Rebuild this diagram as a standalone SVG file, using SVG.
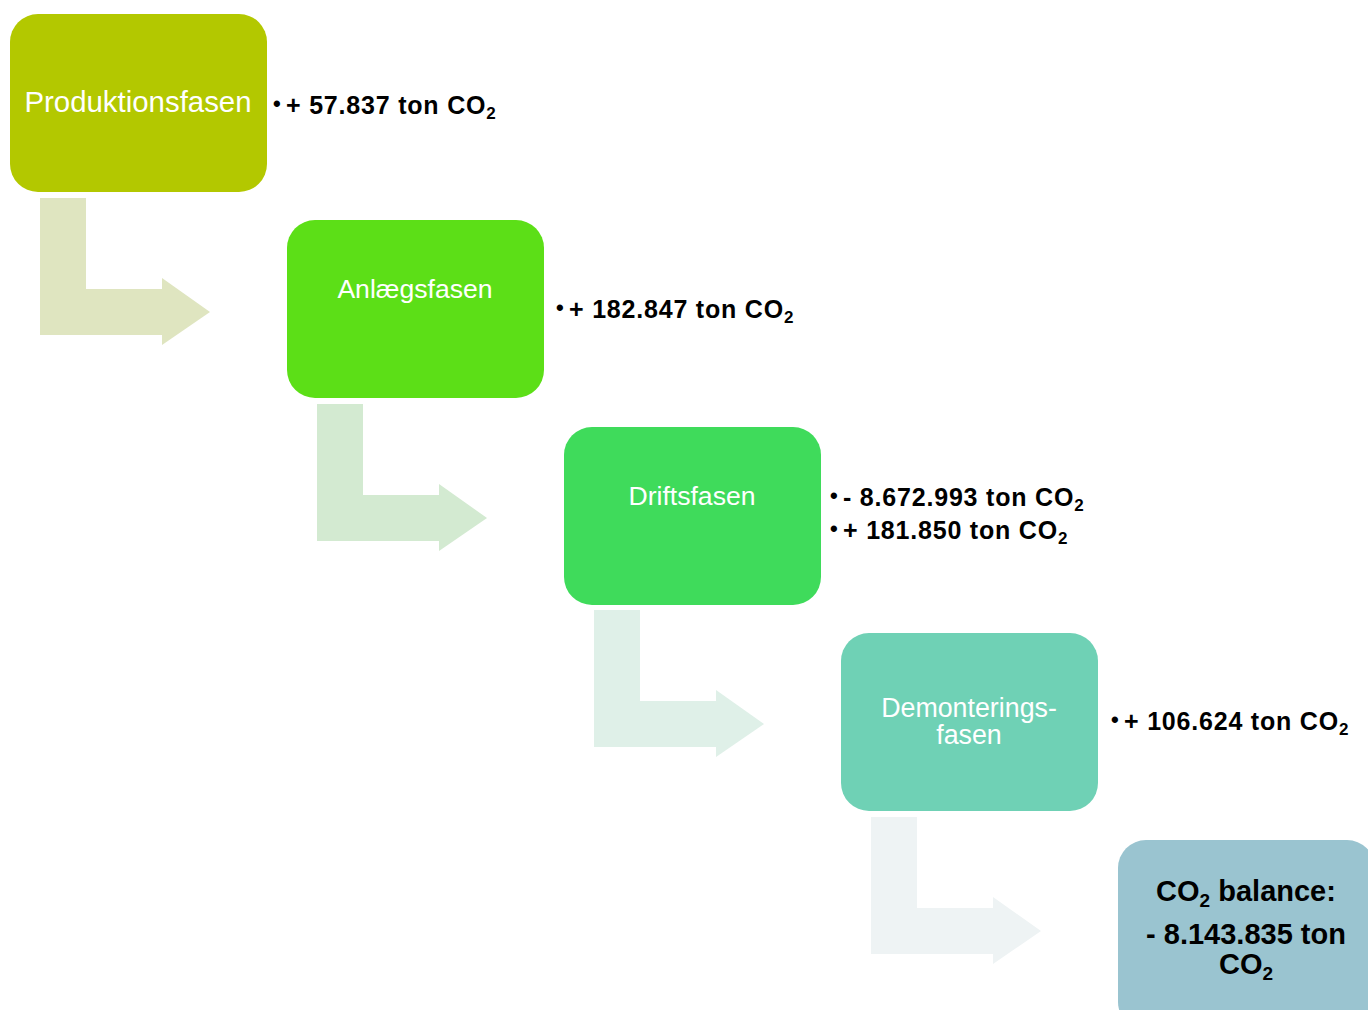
<svg xmlns="http://www.w3.org/2000/svg" width="1368" height="1010" viewBox="0 0 1368 1010">
<style>
.box{stroke:none}
.lbl{font-family:"Liberation Sans",Arial,sans-serif;fill:#ffffff;font-size:26.6px;text-anchor:middle}
.val{font-family:"Liberation Sans",Arial,sans-serif;fill:#000000;font-size:25px;font-weight:bold;letter-spacing:0.8px}
.bul{font-family:"Liberation Sans",Arial,sans-serif;fill:#000000;font-size:22px;font-weight:bold}
.sub{font-size:17px}
.bal{font-family:"Liberation Sans",Arial,sans-serif;fill:#000000;font-size:29px;font-weight:bold;text-anchor:middle}
.bsub{font-size:19px}
</style>
<defs>
<path id="bent" d="M0,0 H46 V91 H122 V80 L170,114 L122,147 V137 H0 Z"/>
</defs>
<rect width="1368" height="1010" fill="#ffffff"/>
<g id="connectors">
<use href="#bent" x="40" y="198" fill="#DFE5C0"/>
<use href="#bent" x="317" y="404" fill="#D3EAD1"/>
<use href="#bent" x="594" y="610" fill="#DFF0E8"/>
<use href="#bent" x="871" y="817" fill="#EEF3F4"/>
</g>
<g id="produktionsfasen">
<rect class="box" x="10" y="14" width="257" height="178" rx="28" fill="#B3C800"/>
<text class="lbl" x="138" y="112" style="font-size:29.4px">Produktionsfasen</text>
<text class="bul" x="273" y="111">•</text>
<text class="val" x="286" y="114">+ 57.837 ton CO<tspan class="sub" dy="5">2</tspan></text>
</g>
<g id="anlaegsfasen">
<rect class="box" x="287" y="220" width="257" height="178" rx="28" fill="#5CDF17"/>
<text class="lbl" x="415" y="298">Anlægsfasen</text>
<text class="bul" x="556" y="315">•</text>
<text class="val" x="569" y="318">+ 182.847 ton CO<tspan class="sub" dy="5">2</tspan></text>
</g>
<g id="driftsfasen">
<rect class="box" x="564" y="427" width="257" height="178" rx="28" fill="#3FDB5B"/>
<text class="lbl" x="692" y="505">Driftsfasen</text>
<text class="bul" x="830" y="503">•</text>
<text class="val" x="843" y="506">- 8.672.993 ton CO<tspan class="sub" dy="5">2</tspan></text>
<text class="bul" x="830" y="536">•</text>
<text class="val" x="843" y="539">+ 181.850 ton CO<tspan class="sub" dy="5">2</tspan></text>
</g>
<g id="demonteringsfasen">
<rect class="box" x="841" y="633" width="257" height="178" rx="28" fill="#6FD1B5"/>
<text class="lbl" style="font-size:26.8px"><tspan x="969" y="717">Demonterings-</tspan><tspan x="969" y="744">fasen</tspan></text>
<text class="bul" x="1111" y="727">•</text>
<text class="val" x="1124" y="730">+ 106.624 ton CO<tspan class="sub" dy="5">2</tspan></text>
</g>
<g id="balance">
<rect class="box" x="1118" y="840" width="257" height="190" rx="28" fill="#9AC4D0"/>
<text class="bal" x="1246" y="901">CO<tspan class="bsub" dy="6">2</tspan><tspan dy="-6"> balance:</tspan></text>
<text class="bal" x="1246" y="944">- 8.143.835 ton</text>
<text class="bal" x="1246" y="974">CO<tspan class="bsub" dy="6">2</tspan></text>
</g>
</svg>
